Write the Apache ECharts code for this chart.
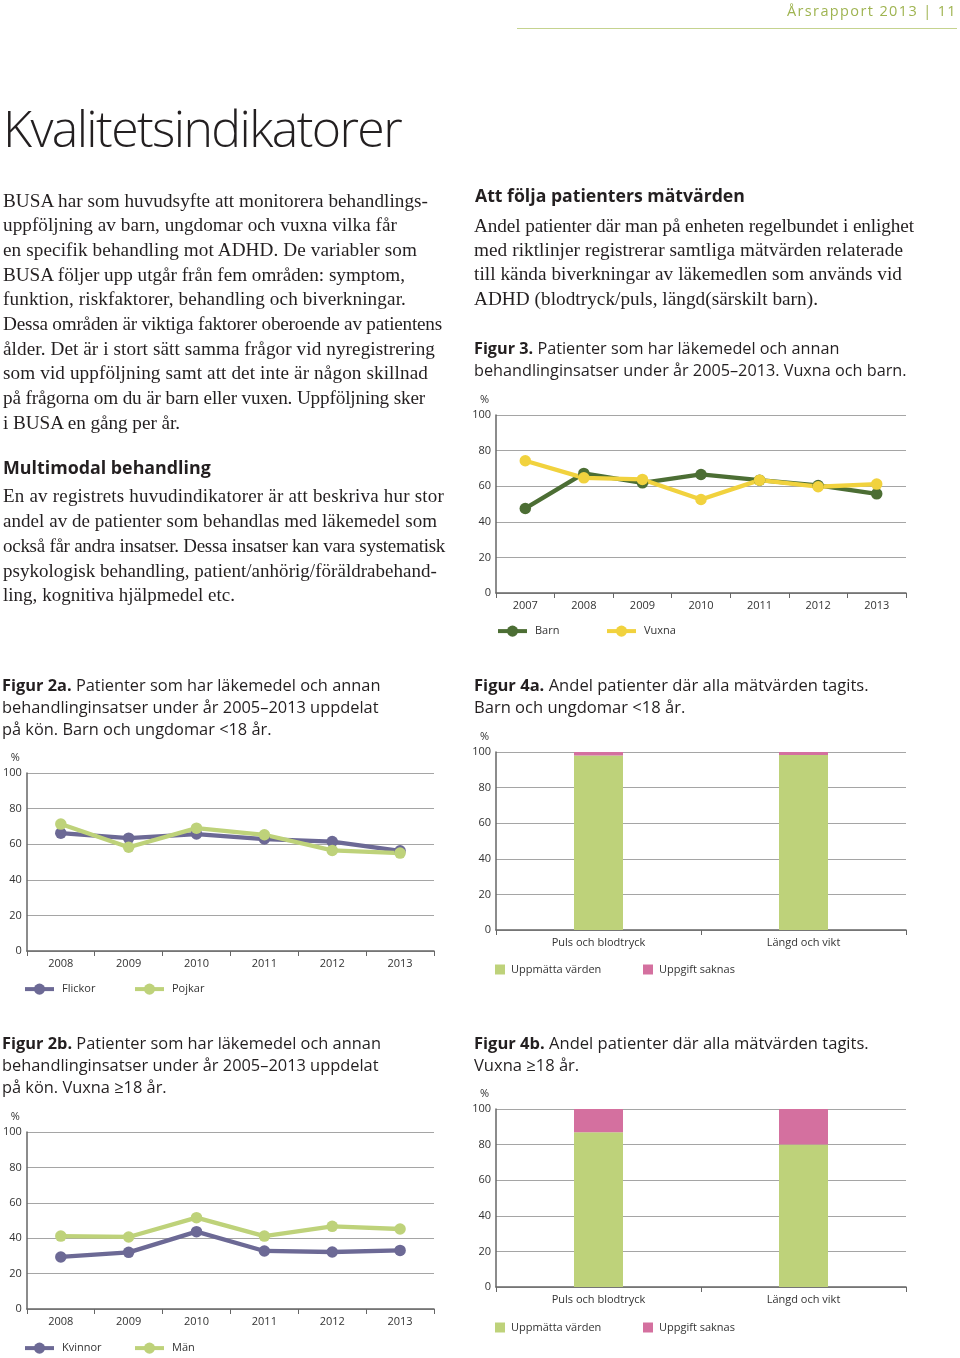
<!DOCTYPE html>
<html><head><meta charset="utf-8">
<script src="https://cdn.jsdelivr.net/npm/echarts@6/dist/echarts.min.js"></script>
<style>
html,body{margin:0;padding:0;background:#fff;}
#page{position:relative;width:960px;height:1358px;overflow:hidden;background:#fff;}
#chart{position:absolute;left:0;top:0;width:960px;height:1358px;}
.t{position:absolute;white-space:nowrap;color:#231f20;}
.serif{font-family:'Liberation Serif','Times New Roman',serif;font-size:19px;}
.sans{font-family:'Open Sans','Noto Sans',sans-serif;}
.cap{font-size:15.5px;line-height:22px;}
.cap b{font-weight:700;}
.hd{font-weight:700;font-size:17.5px;line-height:24px;}
</style></head><body>
<div id="page">
<div id="chart"></div>

<div id="hdr" class="t sans" style="left:787px;top:1px;font-size:14.5px;line-height:20px;color:#9fb451;">Årsrapport 2013 | 11</div>
<div style="position:absolute;left:517px;top:28px;width:440px;height:0;border-top:1.5px solid #c5d38f;"></div>

<div id="title" class="t sans" style="left:3px;top:98px;font-size:50px;line-height:60px;font-weight:300;">Kvalitetsindikatorer</div>

<div id="b1" class="t serif" style="left:3px;top:188.5px;line-height:24.67px;"><span class="ln" data-w="425">BUSA har som huvudsyfte att monitorera behandlings-</span><br><span class="ln" data-w="394">uppföljning av barn, ungdomar och vuxna vilka får</span><br><span class="ln" data-w="414">en specifik behandling mot ADHD. De variabler som</span><br><span class="ln" data-w="402">BUSA följer upp utgår från fem områden: symptom,</span><br><span class="ln" data-w="403">funktion, riskfaktorer, behandling och biverkningar.</span><br><span class="ln" data-w="439">Dessa områden är viktiga faktorer oberoende av patientens</span><br><span class="ln" data-w="432">ålder. Det är i stort sätt samma frågor vid nyregistrering</span><br><span class="ln" data-w="425">som vid uppföljning samt att det inte är någon skillnad</span><br><span class="ln" data-w="422">på frågorna om du är barn eller vuxen. Uppföljning sker</span><br><span class="ln" data-w="177">i BUSA en gång per år.</span></div>

<div id="h1" class="t sans hd" style="left:3px;top:455px;"><span class="r">Multimodal behandling</span></div>
<div id="b2" class="t serif" style="left:3px;top:484.4px;line-height:24.75px;"><span class="ln" data-w="441">En av registrets huvudindikatorer är att beskriva hur stor</span><br><span class="ln" data-w="434">andel av de patienter som behandlas med läkemedel som</span><br><span class="ln" data-w="442">också får andra insatser. Dessa insatser kan vara systematisk</span><br><span class="ln" data-w="434">psykologisk behandling, patient/anhörig/föräldrabehand-</span><br><span class="ln" data-w="232">ling, kognitiva hjälpmedel etc.</span></div>

<div id="h2" class="t sans hd" style="left:475px;top:183px;"><span class="r">Att följa patienters mätvärden</span></div>
<div id="b3" class="t serif" style="left:474px;top:213.5px;line-height:24.4px;"><span class="ln" data-w="440">Andel patienter där man på enheten regelbundet i enlighet</span><br><span class="ln" data-w="429">med riktlinjer registrerar samtliga mätvärden relaterade</span><br><span class="ln" data-w="428">till kända biverkningar av läkemedlen som används vid</span><br><span class="ln" data-w="344">ADHD (blodtryck/puls, längd(särskilt barn).</span></div>

<div id="c3" class="t sans cap" style="left:474px;top:337px;"><b>Figur 3.</b> Patienter som har läkemedel och annan<br><span class="r">behandlinginsatser under år 2005–2013. Vuxna och barn.</span></div>
<div id="c2a" class="t sans cap" style="left:2px;top:674px;"><b>Figur 2a.</b> Patienter som har läkemedel och annan<br><span class="r">behandlinginsatser under år 2005–2013 uppdelat</span><br>på kön. Barn och ungdomar &lt;18 år.</div>
<div id="c4a" class="t sans cap" style="left:474px;top:674px;"><span class="r"><b>Figur 4a.</b> Andel patienter där alla mätvärden tagits.</span><br>Barn och ungdomar &lt;18 år.</div>
<div id="c2b" class="t sans cap" style="left:2px;top:1032px;"><b>Figur 2b.</b> Patienter som har läkemedel och annan<br><span class="r">behandlinginsatser under år 2005–2013 uppdelat</span><br>på kön. Vuxna ≥18 år.</div>
<div id="c4b" class="t sans cap" style="left:474px;top:1032px;"><span class="r"><b>Figur 4b.</b> Andel patienter där alla mätvärden tagits.</span><br>Vuxna ≥18 år.</div>
</div>

<script>
// ---- data ----
const years7 = ['2007', '2008', '2009', '2010', '2011', '2012', '2013'];
const barn = [47.5, 67.2, 61.9, 66.6, 63.4, 60.4, 55.7];
const vuxna = [74.3, 64.7, 63.8, 52.5, 63.4, 59.7, 61.2];

const years6 = ['2008', '2009', '2010', '2011', '2012', '2013'];
const flickor = [66.2, 63.4, 65.7, 62.9, 61.5, 56.3];
const pojkar = [71.3, 58.3, 69.0, 65.3, 56.5, 55.0];
const kvinnor = [29.4, 32.0, 43.7, 32.8, 32.2, 33.1];
const man = [41.2, 40.7, 51.6, 41.2, 46.7, 45.2];

const measures = ['Puls och blodtryck', 'Längd och vikt'];
const measured4a = [98.1, 98.3];
const missing4a = [1.9, 1.7];
const measured4b = [86.9, 80.0];
const missing4b = [13.1, 20.0];

// ---- text fitting ----
function fitFont(id, w) {
  const el = document.getElementById(id);
  const r = el.querySelector('.r');
  const fs = parseFloat(getComputedStyle(el).fontSize);
  const cw = r.getBoundingClientRect().width;
  el.style.fontSize = (fs * w / cw) + 'px';
}
function fitSpacing(id, w) {
  const el = document.getElementById(id);
  const cw = el.getBoundingClientRect().width;
  const n = el.textContent.length;
  el.style.letterSpacing = ((w - cw) / n) + 'px';
}
function fitLines(id) {
  const el = document.getElementById(id);
  const spans = Array.from(el.querySelectorAll('.ln'));
  let sumT = 0, sumW = 0;
  spans.forEach(s => { sumT += +s.dataset.w; sumW += s.getBoundingClientRect().width; });
  const fs = parseFloat(getComputedStyle(el).fontSize);
  el.style.fontSize = (fs * sumT / sumW) + 'px';
  spans.forEach(s => {
    const w = s.getBoundingClientRect().width;
    s.style.letterSpacing = ((+s.dataset.w - w) / s.textContent.length) + 'px';
  });
}
fitSpacing('title', 398);
fitSpacing('hdr', 170);
fitLines('b1');
fitLines('b2');
fitLines('b3');
fitFont('h1', 208);
fitFont('h2', 270);
fitFont('c3', 433);
fitFont('c2a', 377);
fitFont('c2b', 377);
fitFont('c4a', 395);
fitFont('c4b', 395);

// ---- chart ----
const FF = "'Open Sans','Noto Sans',sans-serif";
const COL = { barn: '#4c6e34', vuxna: '#f1d23e', purple: '#6c6995', lgreen: '#bed27a', pink: '#d4709f' };
const grids = [
  { left: 496, top: 415, width: 410, height: 178 },
  { left: 23, top: 773, width: 411, height: 178 },
  { left: 23, top: 1132, width: 411, height: 177 },
  { left: 496, top: 752, width: 410, height: 178 },
  { left: 496, top: 1109, width: 410, height: 178 }
];
function xAx(gi, cats) {
  return { type: 'category', gridIndex: gi, data: cats, boundaryGap: true,
    axisLine: { lineStyle: { color: '#666', width: 1.5 } },
    axisTick: { show: true, length: 5, lineStyle: { color: '#666', width: 1 } },
    axisLabel: { margin: 7, fontSize: 11, color: '#333', fontFamily: FF } };
}
function yAx(gi) {
  return { type: 'value', gridIndex: gi, min: 0, max: 100, interval: 20,
    name: '%', nameLocation: 'end', nameGap: 10,
    nameTextStyle: { align: 'right', padding: [0, 7, 0, 0], fontSize: 11, color: '#333', fontFamily: FF },
    axisLine: { show: true, lineStyle: { color: '#666', width: 1.5 } },
    axisTick: { show: false },
    splitLine: { show: true, lineStyle: { color: '#a5a5a5', width: 1 } },
    axisLabel: { margin: 5, fontSize: 11, color: '#333', fontFamily: FF } };
}
function lineS(name, data, gi, color) {
  return { type: 'line', name, data, xAxisIndex: gi, yAxisIndex: gi, symbol: 'circle', symbolSize: 11.5,
    lineStyle: { width: 4.3, color }, itemStyle: { color }, emphasis: { disabled: true } };
}
function barS(name, data, gi, color, stack) {
  return { type: 'bar', name, data, xAxisIndex: gi, yAxisIndex: gi, stack, barWidth: 49,
    itemStyle: { color }, emphasis: { disabled: true } };
}
function leg(name, left, cy, bar) {
  const h = bar ? 10 : 14;
  const o = { data: [name], left, top: cy - h / 2, padding: 0, itemWidth: bar ? 10 : 29, itemHeight: h,
    itemGap: 0, selectedMode: false,
    textStyle: { fontSize: 11, color: '#333', fontFamily: FF, padding: [0, 0, 0, bar ? 1 : 3] } };
  if (bar) o.icon = 'rect'; else o.lineStyle = { width: 4 };
  return o;
}
const option = {
  animation: false,
  grid: grids,
  xAxis: [xAx(0, years7), xAx(1, years6), xAx(2, years6), xAx(3, measures), xAx(4, measures)],
  yAxis: [yAx(0), yAx(1), yAx(2), yAx(3), yAx(4)],
  legend: [
    leg('Barn', 496, 632.5), leg('Vuxna', 605, 632.5),
    leg('Flickor', 23, 990.5), leg('Pojkar', 133, 990.5),
    leg('Kvinnor', 23, 1349.5), leg('Män', 133, 1349.5),
    leg('Uppmätta värden', 495, 969, true), leg('Uppgift saknas', 643, 969, true),
    leg('Uppmätta värden', 495, 1327, true), leg('Uppgift saknas', 643, 1327, true)
  ],
  series: [
    lineS('Barn', barn, 0, COL.barn),
    lineS('Vuxna', vuxna, 0, COL.vuxna),
    lineS('Flickor', flickor, 1, COL.purple),
    lineS('Pojkar', pojkar, 1, COL.lgreen),
    lineS('Kvinnor', kvinnor, 2, COL.purple),
    lineS('Män', man, 2, COL.lgreen),
    barS('Uppmätta värden', measured4a, 3, COL.lgreen, 's4a'),
    barS('Uppgift saknas', missing4a, 3, COL.pink, 's4a'),
    barS('Uppmätta värden', measured4b, 4, COL.lgreen, 's4b'),
    barS('Uppgift saknas', missing4b, 4, COL.pink, 's4b')
  ]
};
const chart = echarts.init(document.getElementById('chart'), null, { renderer: 'canvas' });
chart.setOption(option);
</script>
</body></html>
